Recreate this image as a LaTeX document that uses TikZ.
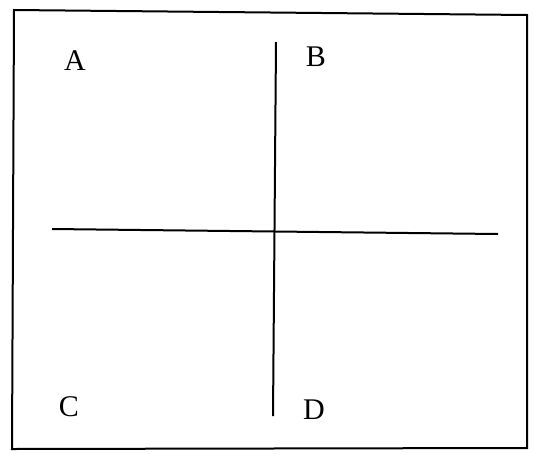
\documentclass[tikz,border=0pt]{standalone}
\usepackage{fontspec}
\setmainfont{Liberation Serif}
\begin{document}
\begin{tikzpicture}[x=1pt,y=-1pt,
  ln/.style={line width=2pt,black},
  lbl/.style={inner sep=0pt,font=\fontsize{30}{35}\selectfont}]
\useasboundingbox[fill=white] (0,0) rectangle (535,453);
\draw[ln] (14,10) -- (527,15) -- (527,448) -- (12,449) -- cycle;
\coordinate (vt) at (276,42);
\coordinate (vb) at (273,416);
\coordinate (hl) at (52,229);
\coordinate (hr) at (498,234);
\draw[ln] (vt) -- (vb);
\draw[ln] (hl) -- (hr);
\node[lbl] (A) at (75,61) {A};
\node[lbl] (B) at (316,57) {B};
\node[lbl] (C) at (69,407) {C};
\node[lbl] (D) at (314,410) {D};
\end{tikzpicture}
\end{document}
